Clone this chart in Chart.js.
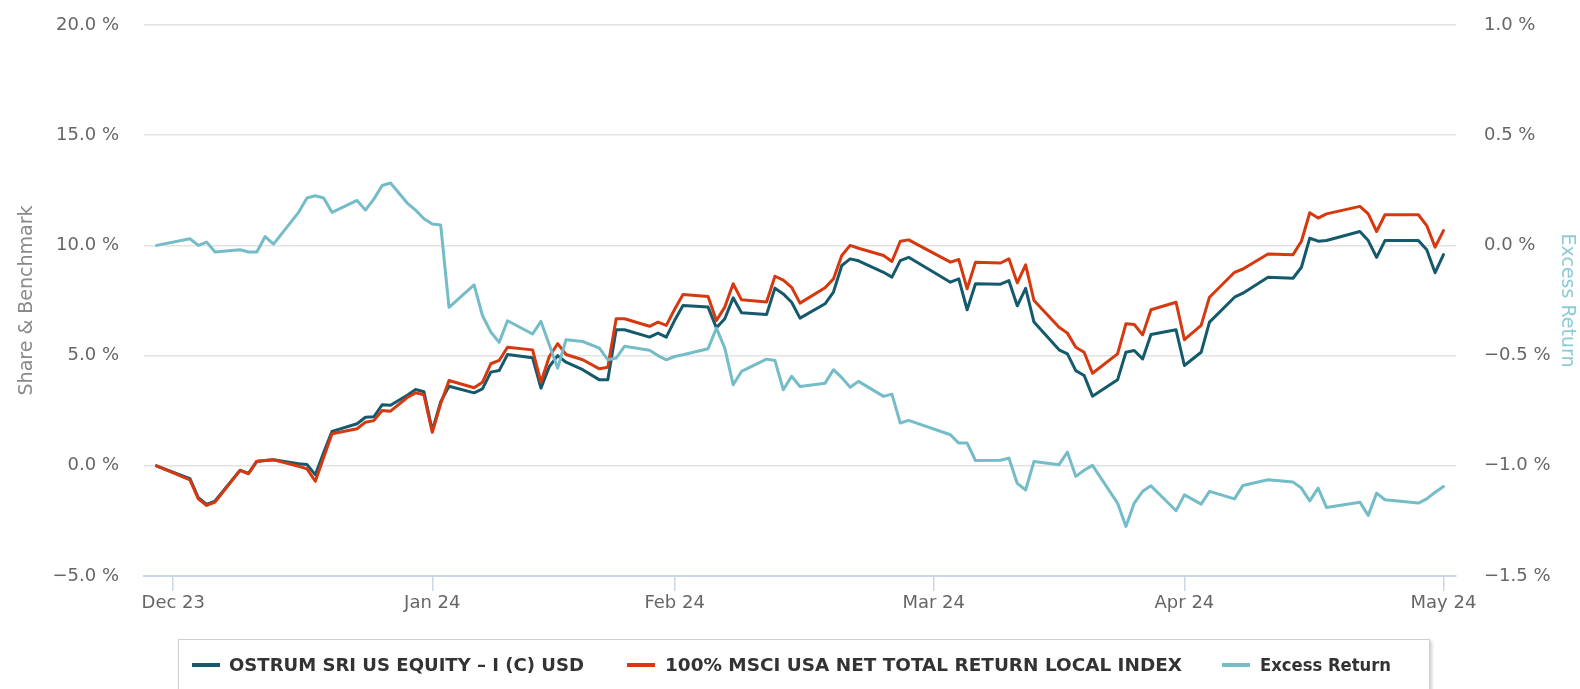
<!DOCTYPE html>
<html>
<head>
<meta charset="utf-8" />
<title>Ostrum SRI US Equity - performance</title>
<script src="https://cdn.jsdelivr.net/npm/chart.js@4.4.1/dist/chart.umd.min.js"></script>
<style>
  body { margin: 0; background: #fff; }
  #wrap { position: relative; width: 1580px; height: 689px; overflow: hidden; }
  #legend {
    position: absolute; left: 178px; top: 639px; width: 1250px; height: 80px;
    border: 1px solid #cfcfcf; box-shadow: 2px 2px 3px rgba(0,0,0,0.18); background: #fff;
  }
  .sym { position: absolute; top: 663px; width: 28px; height: 4px; }
  .txt { position: absolute; top: 653px; white-space: nowrap; line-height: 24px;
    font-family: "DejaVu Sans", sans-serif; font-weight: bold; font-size: 18px; color: #333;
    transform-origin: 0 50%; }
</style>
</head>
<body>
<div id="wrap">
  <canvas id="myChart" width="1580" height="689"></canvas>
  <div id="legend"></div>
  <div class="sym" style="left:192px;background:#145a6c"></div>
  <span class="txt" style="left:229px" data-w="355">OSTRUM SRI US EQUITY – I (C) USD</span>
  <div class="sym" style="left:627px;background:#d6380f"></div>
  <span class="txt" style="left:665px" data-w="517">100% MSCI USA NET TOTAL RETURN LOCAL INDEX</span>
  <div class="sym" style="left:1222px;background:#74bcc8"></div>
  <span class="txt" style="left:1260px" data-w="131">Excess Return</span>
</div>

<script>
// trading-day position on the time axis (Dec 1st 2023 = 0)
var dayIndex = [-2, 2, 3, 4, 5, 8, 9, 10, 11, 12, 15, 16, 17, 18, 19, 22, 23, 24, 25, 26, 28, 29, 30, 31, 32,
  33, 36, 37, 38, 39, 40, 43, 44, 45, 46, 47, 49, 51, 52, 53, 54, 57, 58, 59, 60, 61, 64, 65, 66, 67, 68,
  71, 72, 73, 74, 75, 78, 79, 80, 81, 82, 85, 86, 87, 88, 93, 94, 95, 96, 99, 100, 101, 102, 103,
  106, 107, 108, 109, 110, 113, 114, 115, 116, 117, 120, 121, 123, 124, 127, 128, 131, 134, 135, 136, 137, 138,
  142, 143, 144, 145, 149, 150, 151, 152];

// OSTRUM SRI US EQUITY - I (C) USD, cumulative %
var fund = [0.00, -0.58, -1.45, -1.75, -1.60, -0.20, -0.34, 0.20, 0.24, 0.27, 0.09, 0.06, -0.41, 0.60, 1.56, 1.91, 2.20, 2.22, 2.77, 2.75, 3.20, 3.46, 3.36, 1.60, 2.90,
  3.61, 3.31, 3.49, 4.25, 4.32, 5.05, 4.90, 3.52, 4.50, 5.00, 4.70, 4.36, 3.90, 3.90, 6.17, 6.17, 5.84, 6.02, 5.84, 6.60, 7.27, 7.20, 6.26, 6.67, 7.62, 6.94,
  6.86, 8.06, 7.80, 7.42, 6.70, 7.35, 7.88, 9.09, 9.39, 9.30, 8.78, 8.56, 9.31, 9.46, 8.33, 8.48, 7.08, 8.26, 8.24, 8.40, 7.26, 8.05, 6.52,
  5.26, 5.08, 4.32, 4.10, 3.16, 3.90, 5.15, 5.23, 4.85, 5.96, 6.17, 4.55, 5.15, 6.52, 7.65, 7.83, 8.56, 8.51, 9.01, 10.33, 10.19, 10.22,
  10.63, 10.22, 9.46, 10.22, 10.22, 9.80, 8.76, 9.58];

// 100% MSCI USA NET TOTAL RETURN LOCAL INDEX, cumulative %
var bench = [0.00, -0.64, -1.50, -1.80, -1.65, -0.21, -0.36, 0.21, 0.24, 0.27, -0.02, -0.14, -0.70, 0.38, 1.45, 1.68, 1.98, 2.05, 2.51, 2.48, 3.10, 3.31, 3.22, 1.52, 2.81,
  3.87, 3.54, 3.79, 4.63, 4.78, 5.38, 5.26, 3.79, 4.96, 5.54, 5.05, 4.81, 4.40, 4.47, 6.67, 6.67, 6.33, 6.52, 6.37, 7.10, 7.77, 7.68, 6.59, 7.20, 8.26, 7.53,
  7.43, 8.60, 8.42, 8.10, 7.38, 8.08, 8.48, 9.54, 10.00, 9.87, 9.54, 9.27, 10.19, 10.25, 9.24, 9.36, 8.03, 9.24, 9.20, 9.39, 8.30, 9.12, 7.50,
  6.29, 6.02, 5.38, 5.15, 4.20, 5.08, 6.44, 6.41, 5.94, 7.08, 7.42, 5.72, 6.37, 7.65, 8.78, 8.93, 9.61, 9.58, 10.19, 11.48, 11.24, 11.43,
  11.77, 11.43, 10.63, 11.39, 11.39, 10.90, 9.92, 10.67];

// Excess Return, %  (right axis)
var excess = [0.00, 0.03, 0.00, 0.015, -0.03, -0.02, -0.03, -0.03, 0.04, 0.006, 0.15, 0.215, 0.225, 0.215, 0.15, 0.204, 0.16, 0.21, 0.272, 0.283, 0.192, 0.16, 0.121, 0.097, 0.093,
  -0.281, -0.179, -0.318, -0.393, -0.44, -0.342, -0.402, -0.345, -0.451, -0.557, -0.428, -0.436, -0.466, -0.519, -0.511, -0.458, -0.476, -0.50, -0.519, -0.504, -0.496, -0.469, -0.375, -0.466, -0.632, -0.572,
  -0.516, -0.522, -0.655, -0.594, -0.640, -0.625, -0.564, -0.60, -0.644, -0.617, -0.685, -0.675, -0.806, -0.794, -0.859, -0.897, -0.897, -0.976, -0.975, -0.965, -1.08, -1.11, -0.98,
  -0.995, -0.938, -1.048, -1.02, -0.998, -1.169, -1.275, -1.169, -1.116, -1.091, -1.204, -1.132, -1.174, -1.116, -1.15, -1.089, -1.063, -1.074, -1.101, -1.159, -1.101, -1.189,
  -1.165, -1.225, -1.124, -1.154, -1.169, -1.15, -1.12, -1.094];

// month ticks on the axis
var monthTicks = [0, 31, 60, 91, 121, 152];
var monthLabels = ['Dec 23', 'Jan 24', 'Feb 24', 'Mar 24', 'Apr 24', 'May 24'];

var leftTicks = [-5, 0, 5, 10, 15, 20];
var rightTicks = [-1.5, -1.0, -0.5, 0.0, 0.5, 1.0];

function points(vals) {
  return dayIndex.map(function (d, i) { return { x: d, y: vals[i] }; });
}
function pct(v) {
  var s = Math.abs(v).toFixed(1) + ' %';
  return v < 0 ? '\u2212' + s : s;
}

// squeeze/stretch the legend texts to the widths seen in the original
document.querySelectorAll('.txt').forEach(function (el) {
  var w = el.getBoundingClientRect().width;
  el.style.transform = 'scaleX(' + (parseFloat(el.dataset.w) / w) + ')';
});

var tickFont = { family: 'DejaVu Sans', size: 18 };

var ctx = document.getElementById('myChart').getContext('2d');
var chart = new Chart(ctx, {
  type: 'line',
  data: {
    datasets: [
      { label: 'OSTRUM SRI US EQUITY - I (C) USD', data: points(fund), yAxisID: 'y',
        borderColor: '#145a6c', borderWidth: 3, order: 3 },
      { label: '100% MSCI USA NET TOTAL RETURN LOCAL INDEX', data: points(bench), yAxisID: 'y',
        borderColor: '#d6380f', borderWidth: 3, order: 2 },
      { label: 'Excess Return', data: points(excess), yAxisID: 'y1',
        borderColor: '#74bcc8', borderWidth: 3, order: 1 }
    ]
  },
  options: {
    responsive: false,
    animation: false,
    devicePixelRatio: 1,
    layout: { padding: { top: 25, left: 0, right: 0, bottom: 0 } },
    elements: { point: { radius: 0 }, line: { tension: 0, borderJoinStyle: 'round', borderCapStyle: 'round' } },
    plugins: { legend: { display: false }, tooltip: { enabled: false } },
    scales: {
      x: {
        type: 'linear', min: -3.5, max: 153.5,
        afterFit: function (s) { s.height = 113; },
        afterBuildTicks: function (s) { s.ticks = monthTicks.map(function (v) { return { value: v }; }); },
        border: { color: '#ccd6eb', width: 2 },
        grid: { drawOnChartArea: false, tickLength: 15, tickColor: '#ccd6eb', lineWidth: 1.5 },
        ticks: {
          autoSkip: false, maxRotation: 0, padding: 2, color: '#666', font: tickFont,
          callback: function (v) { var i = monthTicks.indexOf(v); return i < 0 ? '' : monthLabels[i]; }
        }
      },
      y: {
        position: 'left', min: -5, max: 20,
        afterFit: function (s) { s.width = 144; },
        afterBuildTicks: function (s) { s.ticks = leftTicks.map(function (v) { return { value: v }; }); },
        border: { display: false },
        // invisible tick marks keep the labels away from the plot
        grid: { color: '#e3e3e3', lineWidth: 1.5, drawTicks: true, tickLength: 25, tickColor: 'rgba(0,0,0,0)' },
        ticks: { padding: 0, color: '#666', font: tickFont, callback: function (v) { return pct(v); } },
        title: { display: true, text: 'Share & Benchmark', color: '#8a8a8a',
          font: { family: 'DejaVu Sans', size: 19 }, padding: { top: 16, bottom: 0 } }
      },
      y1: {
        position: 'right', min: -1.5, max: 1.0,
        afterFit: function (s) { s.width = 124; },
        afterBuildTicks: function (s) { s.ticks = rightTicks.map(function (v) { return { value: v }; }); },
        border: { display: false },
        grid: { drawOnChartArea: false, drawTicks: true, tickLength: 28, tickColor: 'rgba(0,0,0,0)' },
        ticks: { padding: 0, color: '#666', font: tickFont, callback: function (v) { return pct(v); } },
        title: { display: true, text: 'Excess Return', color: '#8ecbd5',
          font: { family: 'DejaVu Sans', size: 19 }, padding: { top: 2, bottom: 0 } }
      }
    }
  }
});
</script>
</body>
</html>
